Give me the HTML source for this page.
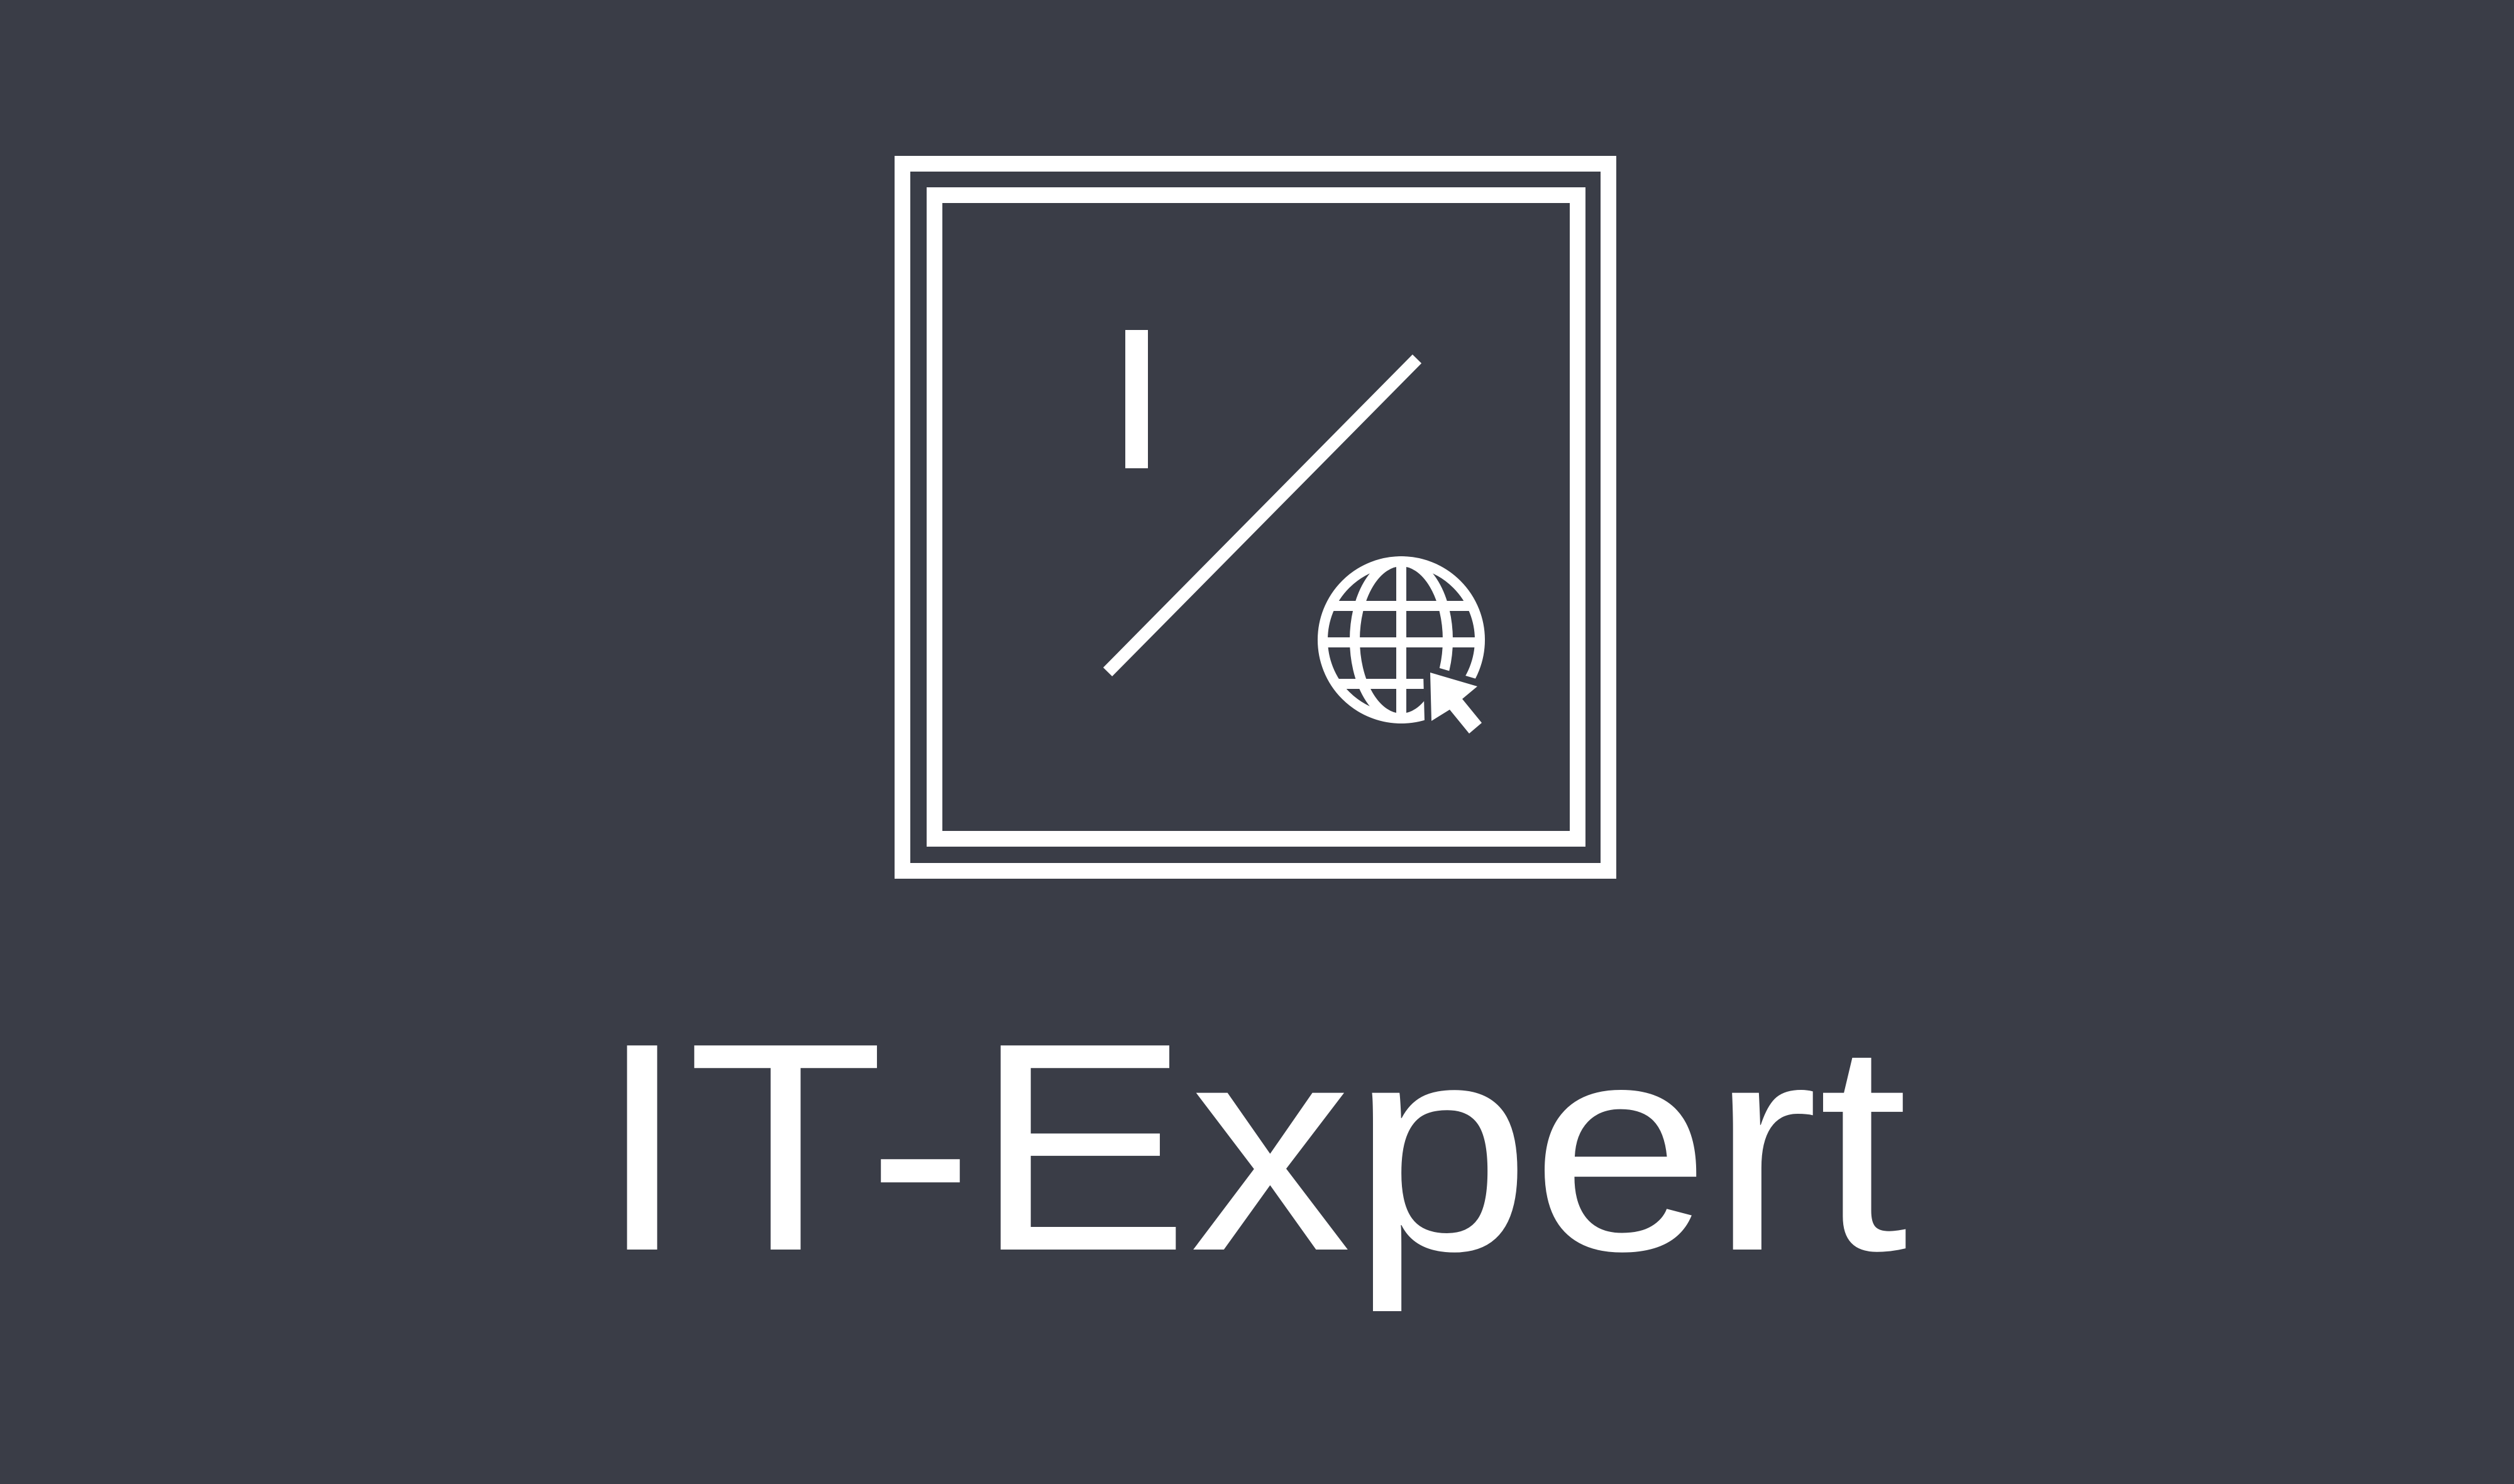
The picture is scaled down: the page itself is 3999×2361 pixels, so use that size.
<!DOCTYPE html>
<html><head><meta charset="utf-8"><style>
html,body{margin:0;padding:0;background:#3a3d47;}
svg{display:block}
</style></head><body>
<svg width="3999" height="2361" viewBox="0 0 3999 2361" xmlns="http://www.w3.org/2000/svg">
<rect width="3999" height="2361" fill="#3a3d47"/>
<g fill="none" stroke="#fff" stroke-width="25">
<rect x="1435.5" y="260.5" width="1123" height="1125"/>
<rect x="1486.5" y="310.5" width="1023" height="1024"/>
</g>
<rect x="1790" y="525" width="36" height="220" fill="#fff"/>
<line x1="1762" y1="1069" x2="2254" y2="571" stroke="#fff" stroke-width="20"/>
<g fill="none" stroke="#fff" stroke-width="16">
<circle cx="2229" cy="1018" r="125"/>
<ellipse cx="2229" cy="1018" rx="74" ry="125"/>
<line x1="2229" y1="893" x2="2229" y2="1143"/>
<line x1="2120" y1="964" x2="2338" y2="964"/>
<line x1="2104" y1="1022" x2="2354" y2="1022"/>
<line x1="2124" y1="1088" x2="2334" y2="1088"/>
</g>
<polygon points="2275,1070 2350,1092 2326,1112 2357,1150 2337,1167 2306,1129 2277,1147" fill="#fff" stroke="#3a3d47" stroke-width="22" stroke-linejoin="miter"/>
<polygon points="2275,1070 2350,1092 2326,1112 2357,1150 2337,1167 2306,1129 2277,1147" fill="#fff"/>
<text x="950" y="1988" font-family="Liberation Sans, sans-serif" font-size="472" fill="#fff" textLength="2085" lengthAdjust="spacingAndGlyphs">IT-Expert</text>
</svg>
</body></html>
